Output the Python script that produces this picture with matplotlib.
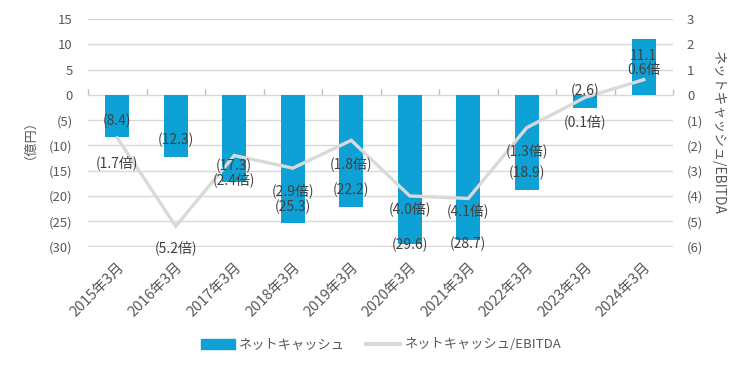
import numpy as np
import matplotlib
matplotlib.use("Agg")
import matplotlib.pyplot as plt
from matplotlib.patches import Patch
from matplotlib.lines import Line2D

plt.rcParams['font.family'] = ['Noto Sans CJK JP', 'DejaVu Sans']

# データ
periods = ['2015年3月', '2016年3月', '2017年3月', '2018年3月', '2019年3月',
           '2020年3月', '2021年3月', '2022年3月', '2023年3月', '2024年3月']
net_cash = [-8.4, -12.3, -17.3, -25.3, -22.2, -29.6, -28.7, -18.9, -2.6, 11.1]
nc_ebitda = [-1.7, -5.2, -2.4, -2.9, -1.8, -4.0, -4.1, -1.3, -0.1, 0.6]

# ラベル位置の調整 (px)
bar_label_shift = [16, 17, 16, 16, 17, 0, -4, 17, 17, 17]
line_label_shift = [-25, -22, -24, -23, -23, -13, -12, -23, -24, 10]

BLUE = '#0ea1d6'
GRAY_LINE = '#d9d9d9'
TXT = '#595959'
LBL = '#404040'
px = 72 / 100


def fmt(v, suffix=''):
    if v < 0:
        return f'({abs(v):.1f}{suffix})'
    return f'{v:.1f}{suffix}'


fig = plt.figure(figsize=(7.53, 3.70), dpi=100)
ax = fig.add_axes([88 / 753, 1 - 246.5 / 370, 585 / 753, (246.5 - 19) / 370])
ax2 = ax.twinx()

x = np.arange(len(periods))
ax.bar(x, net_cash, width=0.41, color=BLUE, zorder=2)
ax2.plot(x, nc_ebitda, color=GRAY_LINE, lw=2.4, solid_joinstyle='miter', zorder=3)

ax.set_xlim(-0.5, len(periods) - 0.5)
ax.set_ylim(-30, 15)
ax2.set_ylim(-6, 3)

ax.set_yticks(np.arange(-30, 16, 5))
ax.set_yticklabels([f'({abs(v)})' if v < 0 else str(v) for v in range(-30, 16, 5)])
ax2.set_yticks(np.arange(-6, 4, 1))
ax2.set_yticklabels([f'({abs(v)})' if v < 0 else str(v) for v in range(-6, 4, 1)])

ax.grid(axis='y', color=GRAY_LINE, lw=1, zorder=0)
ax.set_axisbelow(True)
for a in (ax, ax2):
    for s in a.spines.values():
        s.set_visible(False)
    a.tick_params(axis='y', length=0, labelsize=9.5, labelcolor=TXT)
ax.tick_params(axis='y', pad=11)
ax2.tick_params(axis='y', pad=10)

ax.set_xticks(x)
ax.set_xticklabels(periods, rotation=45, ha='right', va='top', rotation_mode='anchor')
ax.tick_params(axis='x', length=0, labelsize=10.5, labelcolor=TXT, pad=10)

# 0 の位置の横軸
zero_pos = 30 / 45
sec = ax.secondary_xaxis(zero_pos)
sec.set_xticks(np.arange(len(periods) + 1) - 0.5)
sec.set_xticklabels([])
sec.tick_params(axis='x', direction='out', length=4, color='#bfbfbf', width=1)
sec.spines['bottom'].set_color('#bfbfbf')
sec.spines['top'].set_visible(False)

ax.set_ylabel('（億円）', fontsize=9.5, color=TXT)
ax.yaxis.set_label_coords(-0.1, 0.5)
ax2.set_ylabel('ネットキャッシュ/EBITDA', fontsize=10, color=TXT, rotation=270, va='center')
ax2.yaxis.set_label_coords(1.077, 0.5)

# データラベル
for xi, v, d in zip(x, net_cash, bar_label_shift):
    off = -d if v > 0 else d
    ax2.annotate(fmt(v), xy=(xi, v / 5), xytext=(0, off * px), textcoords='offset points',
                 ha='center', va='center', fontsize=10, color=LBL, zorder=5)
for xi, v, d in zip(x, nc_ebitda, line_label_shift):
    ax2.annotate(fmt(v, '倍'), xy=(xi, v), xytext=(0, d * px), textcoords='offset points',
                 ha='center', va='center', fontsize=10, color=LBL, zorder=5)

handles = [Patch(color=BLUE), Line2D([], [], color=GRAY_LINE, lw=3)]
fig.legend(handles, ['ネットキャッシュ', 'ネットキャッシュ/EBITDA'], ncol=2, loc='center',
           bbox_to_anchor=(381 / 753, 1 - 345 / 370), frameon=False, fontsize=9.5,
           labelcolor=TXT, handlelength=2.6, handletextpad=0.3, columnspacing=1.6)

fig.savefig('out.png', dpi=100)
